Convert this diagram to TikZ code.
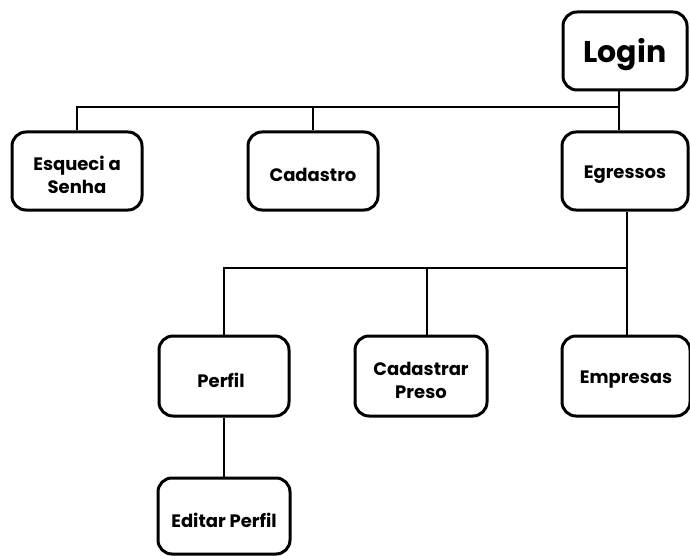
\documentclass[tikz,border=0pt]{standalone}
\usepackage{fontspec}
\setmainfont{Poppins}
\begin{document}
\begin{tikzpicture}[x=1pt,y=-1pt,
  box/.style={draw=black,line width=3pt,rounded corners=14pt,fill=white,inner sep=0pt},
  txt/.style={align=center,font=\fontsize{18}{23}\selectfont\bfseries,inner sep=0pt,yshift=-4pt},
  big/.style={txt,font=\fontsize{30}{33}\selectfont\bfseries},
  link/.style={draw=black,line width=2pt}]
\useasboundingbox (0,0) rectangle (690,556);
% screens
\node[box,minimum width=124pt,minimum height=78pt,label={[big]center:Login}] (login) at (625,51) {};
\node[box,minimum width=130pt,minimum height=78pt,label={[txt]center:{Esqueci a\\Senha}}] (esq) at (77,171) {};
\node[box,minimum width=130pt,minimum height=78pt,label={[txt]center:Cadastro}] (cad) at (313,171) {};
\node[box,minimum width=126pt,minimum height=78pt,label={[txt]center:Egressos}] (egr) at (625,171) {};
\node[box,minimum width=130pt,minimum height=80pt,label={[txt,xshift=-3pt]center:Perfil}] (perf) at (224,376) {};
\node[box,minimum width=132pt,minimum height=80pt,label={[txt]center:{Cadastrar\\Preso}}] (cpre) at (421,376) {};
\node[box,minimum width=128pt,minimum height=80pt,label={[txt]center:Empresas}] (emp) at (626,376) {};
\node[box,minimum width=132pt,minimum height=76pt,label={[txt]center:Editar Perfil}] (edit) at (224,516) {};
% junction points
\coordinate (j1) at (619,107);
\coordinate (j2) at (627,268);
% first level
\draw[link] (login.south -| j1) -- (j1) -| (esq.north);
\draw[link] (j1) -| (cad.north);
\draw[link] (j1) -- (egr.north -| j1);
% second level
\draw[link] (egr.south -| j2) -- (j2) -| (perf.north);
\draw[link] (j2) -| (cpre.north -| 427,0);
\draw[link] (j2) -- (emp.north -| j2);
\draw[link] (perf.south) -- (edit.north);
\end{tikzpicture}
\end{document}
